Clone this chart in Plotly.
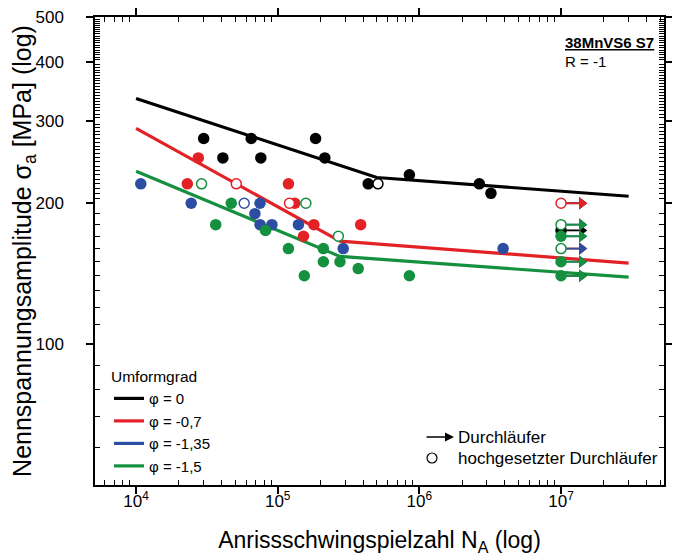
import numpy as np
import plotly.graph_objects as go

# ---------------- data ----------------
series_names = ["φ = 0", "φ = -0,7", "φ = -1,35", "φ = -1,5"]
series_colors = ["#000000", "#e32227", "#2b4ea2", "#14903f"]

# filled points (failures)
black_N = [3.0e4, 6.5e4, 1.85e5, 4.1e4, 7.6e4, 2.15e5, 4.35e5, 8.5e5, 2.65e6, 3.2e6, 1e7]
black_S = [275, 275, 275, 250, 250, 250, 220, 230, 220, 210, 175]
red_N = [2.3e4, 2.75e4, 1.19e5, 1.32e5, 1.8e5, 1.52e5, 3.85e5]
red_S = [220, 250, 220, 200, 180, 170, 180]
blue_N = [1.08e4, 2.45e4, 6.9e4, 7.5e4, 7.5e4, 9.1e4, 1.4e5, 2.9e5, 3.9e6]
blue_S = [220, 200, 190, 200, 180, 180, 180, 160, 160]
green_N = [3.65e4, 4.7e4, 8.2e4, 1.19e5, 2.1e5, 2.1e5, 2.75e5, 3.7e5, 1.54e5, 8.5e5, 1e7, 1e7, 1e7]
green_S = [180, 200, 175, 160, 160, 150, 150, 145, 140, 140, 170, 150, 140]

# open points (raised run-outs)
black_open_N = [5.1e5]
black_open_S = [220]
red_open_N = [5.1e4, 1.21e5, 1e7]
red_open_S = [220, 200, 200]
blue_open_N = [5.8e4]
blue_open_S = [200]
green_open_N = [2.9e4, 1.58e5, 2.68e5, 1e7, 1e7]
green_open_S = [220, 200, 170, 180, 160]

# run-outs (arrows) at the limit cycle count
runout_N = 1e7
black_run_S = [200, 175, 140]
red_run_S = [200, 160]
blue_run_S = [180, 170, 160, 150]
green_run_S = [180, 170, 150, 140]

# S-N fit lines
black_fit_N = [1e4, 5e5, 3e7]
black_fit_S = [335, 227, 207]
red_fit_N = [1e4, 2.75e5, 3e7]
red_fit_S = [289, 166, 149]
green_fit_N = [1e4, 2.75e5, 3e7]
green_fit_S = [234, 154, 139]

x_tickvals = [1e4, 1e5, 1e6, 1e7]
x_ticktext = ["10<sup>4</sup>", "10<sup>5</sup>", "10<sup>6</sup>", "10<sup>7</sup>"]
y_tickvals = [100, 200, 300, 400, 500]
y_ticktext = ["100", "200", "300", "400", "500"]

FONT = "Arial, Liberation Sans, sans-serif"
ARROW_F = 1.4  # arrow length factor (style)

fig = go.Figure()

fits = [(black_fit_N, black_fit_S), (red_fit_N, red_fit_S), (None, None), (green_fit_N, green_fit_S)]
for (fn, fs), name, col in zip(fits, series_names, series_colors):
    fig.add_trace(go.Scatter(
        x=fn if fn else [None], y=fs if fs else [None], mode="lines", name=name,
        line=dict(color=col, width=3.2), legend="legend", hoverinfo="skip"))

runs = [black_run_S, red_run_S, blue_run_S, green_run_S]
for rs, col in zip(runs, series_colors):
    xs, ys = [], []
    for s in rs:
        xs += [runout_N, runout_N * ARROW_F, None]
        ys += [s, s, None]
    fig.add_trace(go.Scatter(x=xs, y=ys, mode="lines", line=dict(color=col, width=1.8),
                             showlegend=False, hoverinfo="skip"))
    fig.add_trace(go.Scatter(x=[runout_N * ARROW_F] * len(rs), y=rs, mode="markers",
                             marker=dict(symbol="triangle-right", size=11, color=col),
                             showlegend=False, hoverinfo="skip"))

filled = [(black_N, black_S), (red_N, red_S), (blue_N, blue_S), (green_N, green_S)]
opened = [(black_open_N, black_open_S), (red_open_N, red_open_S),
          (blue_open_N, blue_open_S), (green_open_N, green_open_S)]
for (fn, fs), (on, os_), col in zip(filled, opened, series_colors):
    fig.add_trace(go.Scatter(x=fn, y=fs, mode="markers",
                             marker=dict(symbol="circle", size=11.5, color=col),
                             showlegend=False))
    fig.add_trace(go.Scatter(x=on, y=os_, mode="markers",
                             marker=dict(symbol="circle", size=10, color="white",
                                         line=dict(color=col, width=1.5)),
                             showlegend=False))

# minor ticks
x_minor = [m * 10 ** e for e in range(3, 8) for m in range(2, 10)
           if 5e3 <= m * 10 ** e <= 5e7 and m * 10 ** e not in x_tickvals]
y_minor = [v for v in list(range(60, 200, 10)) + list(range(205, 500, 5)) if v not in y_tickvals]

ax_common = dict(showline=True, linecolor="black", linewidth=1.5, mirror="allticks",
                 ticks="outside", ticklen=7, tickwidth=1.5, tickcolor="black",
                 showgrid=False, zeroline=False, automargin=False, ticklabeloverflow="allow",
                 tickfont=dict(family=FONT, size=17, color="black"))

fig.update_xaxes(type="log", range=[np.log10(5130), np.log10(5.33e7)],
                 tickvals=x_tickvals, ticktext=x_ticktext, ticklabelstandoff=-7,
                 minor=dict(tickvals=x_minor, ticks="inside", ticklen=5, tickwidth=1, tickcolor="black"),
                 title=dict(text="Anrissschwingspielzahl N<sub>A</sub> (log)",
                            font=dict(family=FONT, size=23, color="black"), standoff=22),
                 **ax_common)
fig.update_yaxes(type="log", range=[np.log10(50), np.log10(500)],
                 tickvals=y_tickvals, ticktext=y_ticktext, ticklabelstandoff=19,
                 minor=dict(tickvals=y_minor, ticks="inside", ticklen=5, tickwidth=1, tickcolor="black"),
                 title=dict(text="Nennspannungsamplitude σ<sub>a</sub> [MPa] (log)",
                            font=dict(family=FONT, size=25, color="black"), standoff=0),
                 **ax_common)

# page pixel -> paper coords (page has 8px body offset; plot area 95..664 x 17..485)
def px_x(px):
    return (px - 95) / 569.0

def px_y(py):
    return (485 - py) / 468.0

fig.update_layout(
    width=672, height=552,
    margin=dict(l=87, r=16, t=9, b=75),
    paper_bgcolor="white", plot_bgcolor="white",
    font=dict(family=FONT, color="black"),
    legend=dict(title=dict(text="Umformgrad", font=dict(family=FONT, size=15.5)),
                x=px_x(109), y=px_y(362), xanchor="left", yanchor="top",
                bgcolor="rgba(0,0,0,0)", font=dict(family=FONT, size=15),
                tracegroupgap=0, itemwidth=30),
    annotations=[
        dict(text="<b><u>38MnVS6 S7</u></b>", x=px_x(563), y=px_y(42), xref="paper", yref="paper",
             xanchor="left", yanchor="middle", showarrow=False, font=dict(family=FONT, size=15)),
        dict(text="R = -1", x=px_x(563), y=px_y(61), xref="paper", yref="paper",
             xanchor="left", yanchor="middle", showarrow=False, font=dict(family=FONT, size=15)),
        dict(text="", x=px_x(454), y=px_y(437), xref="paper", yref="paper",
             ax=-29, ay=0, showarrow=True, arrowhead=2, arrowsize=1.2, arrowwidth=1.5,
             arrowcolor="black"),
        dict(text="Durchläufer", x=px_x(456), y=px_y(437), xref="paper", yref="paper",
             xanchor="left", yanchor="middle", showarrow=False, font=dict(family=FONT, size=17)),
        dict(text="hochgesetzter Durchläufer", x=px_x(456), y=px_y(458), xref="paper", yref="paper",
             xanchor="left", yanchor="middle", showarrow=False, font=dict(family=FONT, size=17)),
    ],
    shapes=[
        dict(type="circle", xref="paper", yref="paper", xsizemode="pixel", ysizemode="pixel",
             xanchor=px_x(432), yanchor=px_y(458), x0=-5, x1=5, y0=-5, y1=5,
             line=dict(color="black", width=1.2), fillcolor="white"),
    ],
)

fig.write_html("out.html")
